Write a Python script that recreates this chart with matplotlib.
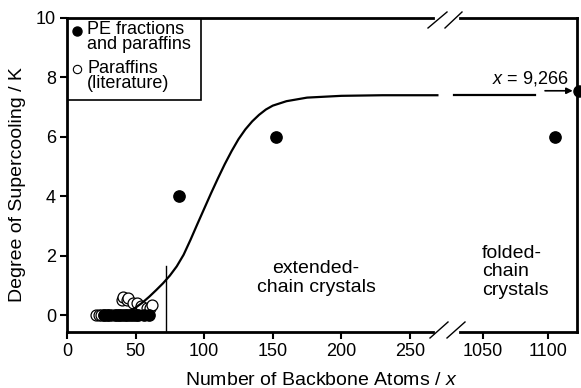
import matplotlib
matplotlib.use('Agg')
import matplotlib.pyplot as plt
from matplotlib.lines import Line2D
from matplotlib.patches import Rectangle

plt.rcParams['font.family'] = ['Liberation Sans', 'DejaVu Sans']
plt.rcParams['mathtext.fontset'] = 'custom'
plt.rcParams['mathtext.it'] = 'Liberation Sans:italic'
plt.rcParams['mathtext.rm'] = 'Liberation Sans'

# PE fractions and paraffins (this work)
pe_x = [27, 30, 36, 38, 40, 42, 44, 46, 48, 50, 52, 56, 60, 82, 152, 1105]
pe_y = [0, 0, 0, 0, 0, 0, 0, 0, 0, 0, 0, 0, 0, 4.0, 6.0, 6.0]
# the longest chain, x = 9,266, sits off the scale
long_x = 9266
long_y = 7.55
long_x_drawn = 1124

# paraffins from the literature
lit_x = [21, 23, 25, 27, 29, 31, 33, 35, 38, 40, 41, 43.5, 44.5, 48, 50.8, 54, 58, 60.5, 61.7]
lit_y = [0, 0, 0, 0, 0, 0, 0, 0, 0, 0.5, 0.62, 0.5, 0.57, 0.4, 0.4, 0.3, 0.23, 0.23, 0.33]

# fitted curve through the data
fit_x = [42, 45, 50, 55, 60, 65, 70, 75, 80, 85, 90, 95, 100, 105, 110, 115, 120,
         125, 130, 135, 140, 145, 150, 160, 175, 200, 230, 270]
fit_y = [0.07, 0.12, 0.25, 0.42, 0.62, 0.84, 1.07, 1.33, 1.64, 2.03, 2.53, 3.06, 3.58,
         4.1, 4.6, 5.08, 5.52, 5.92, 6.25, 6.52, 6.74, 6.92, 7.05, 7.2, 7.32, 7.38, 7.4, 7.4]
plateau_x = [1028, 1090]
plateau_y = [7.4, 7.4]

x_min = 72  # minimum length for extended-chain crystals

W, H = 581, 388
fig = plt.figure(figsize=(W / 100, H / 100), dpi=100)


def fx(px):
    return px / W


def fy(py):
    return 1 - py / H


ax1 = fig.add_axes([fx(67), fy(332), fx(433) - fx(67), fy(18) - fy(332)])
ax2 = fig.add_axes([fx(460), fy(332), fx(577) - fx(460), fy(18) - fy(332)], sharey=ax1)

ax1.set_xlim(0, 266.8)
ax2.set_xlim(1032.3, 1122.3)
ax1.set_ylim(-0.57, 10)

for ax in (ax1, ax2):
    ax.scatter(lit_x, lit_y, s=62, facecolor='white', edgecolor='black', linewidth=0.9, zorder=2)
    ax.scatter(pe_x, pe_y, s=66, color='black', zorder=3)
    for s in ax.spines.values():
        s.set_linewidth(2)
    ax.tick_params(direction='out', length=5, width=1.5, labelsize=13, pad=3)

ax1.plot(fit_x, fit_y, color='black', lw=1.6, zorder=4, clip_on=False)
ax2.plot(plateau_x, plateau_y, color='black', lw=1.6, zorder=4, clip_on=False)
ax2.plot([long_x_drawn], [long_y], 'o', color='black', ms=8, clip_on=False, zorder=5)
ax2.annotate('', xy=(1119, long_y), xytext=(1097.7, long_y),
             arrowprops=dict(arrowstyle='-|>', lw=1.2, color='black', mutation_scale=9,
                             shrinkA=0, shrinkB=0))
ax2.text(1116, 7.98, '$\\mathit{x}$ = 9,266', fontsize=13, ha='right', va='center')

ax1.plot([x_min, x_min], [-0.57, 1.65], color='black', lw=1.0, zorder=1)

ax1.spines['right'].set_visible(False)
ax2.spines['left'].set_visible(False)
ax2.tick_params(axis='y', left=False, labelleft=False)
ax1.set_xticks([0, 50, 100, 150, 200, 250])
ax2.set_xticks([1050, 1100])
ax1.set_yticks([0, 2, 4, 6, 8, 10])

ax1.text(181.5, 1.25, 'extended-\nchain crystals', fontsize=14, ha='center', va='center',
         linespacing=1.1)
ax2.text(1049, 1.45, 'folded-\nchain\ncrystals', fontsize=14, ha='left', va='center',
         linespacing=1.1)

# legend box in the upper left corner
ax1.add_patch(Rectangle((0, 0.739), 0.366, 0.3, transform=ax1.transAxes, fill=False,
                        lw=1.2, zorder=6))
ax1.plot([0.027], [0.959], 'o', color='black', ms=6.5, transform=ax1.transAxes, zorder=6)
ax1.plot([0.027], [0.838], 'o', mfc='white', mec='black', mew=0.8, ms=6,
         transform=ax1.transAxes, zorder=6)
ax1.text(0.055, 0.99, 'PE fractions\nand paraffins', fontsize=13, ha='left', va='top',
         linespacing=0.8, transform=ax1.transAxes)
ax1.text(0.055, 0.865, 'Paraffins\n(literature)', fontsize=13, ha='left', va='top',
         linespacing=0.8, transform=ax1.transAxes)

# axis break marks
for (x0, y0, x1, y1) in [(430, 338, 448, 322), (447, 338, 465, 322),
                         (428, 28, 447, 12), (445, 28, 462, 12)]:
    fig.add_artist(Line2D([fx(x0), fx(x1)], [fy(y0), fy(y1)], color='black', lw=1.0))

fig.text(fx(321), fy(385), 'Number of Backbone Atoms / $\\mathit{x}$', fontsize=14,
         ha='center', va='baseline')
fig.text(fx(18), fy(185), 'Degree of Supercooling / K', fontsize=14, rotation=90,
         ha='center', va='center')

fig.savefig('out.png', dpi=100)
